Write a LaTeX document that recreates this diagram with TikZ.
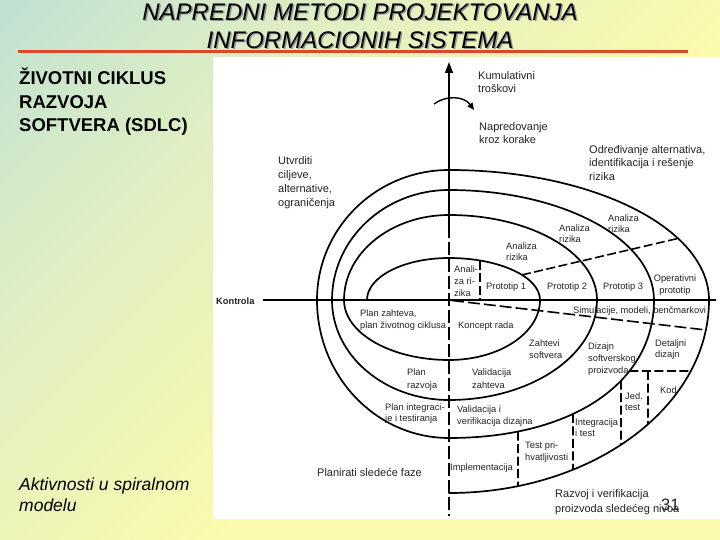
\documentclass[tikz,border=0pt]{standalone}
\usepackage{fontspec}
\setmainfont{Liberation Sans}
\usetikzlibrary{arrows.meta,intersections}
\definecolor{bgteal}{RGB}{166,214,222}
\definecolor{bgmid}{RGB}{222,238,196}
\definecolor{bgyel}{RGB}{252,250,172}
\definecolor{redline}{RGB}{218,74,40}
\definecolor{txtc}{RGB}{35,35,35}
\definecolor{shadowc}{RGB}{150,150,150}
\pgfdeclareverticalshading{bgsh}{100bp}{color(0bp)=(bgyel); color(42bp)=(bgyel); color(68bp)=(bgmid); color(100bp)=(bgteal)}
\begin{document}
\begin{tikzpicture}[x=1pt,y=-1pt,
  spiral/.style={line width=1.7pt, line cap=round, line join=round, black},
  dsh/.style={line width=1.6pt, dash pattern=on 9pt off 3.5pt, black},
  axisline/.style={line width=1.4pt, black},
  lbl/.style={font=\fontsize{9.3}{12}\selectfont, text=txtc, inner sep=0pt, align=left, anchor=north west},
  lbig/.style={font=\fontsize{11}{13.5}\selectfont, text=txtc, inner sep=0pt, align=left, anchor=north west},
  ttl/.style={font=\fontsize{24}{28}\selectfont\itshape, inner sep=0pt, anchor=base},
  lefttitle/.style={font=\fontsize{18.5}{23.5}\selectfont\bfseries, inner sep=0pt, anchor=base west},
  leftnote/.style={font=\fontsize{17.5}{21}\selectfont\itshape, inner sep=0pt, anchor=base west}
]
\useasboundingbox (0,0) rectangle (720,540);
% background
\shade[shading=bgsh, shading angle=45] (0,0) rectangle (720,540);
\fill[white] (213,57) rectangle (720,519);
% title
\node[ttl, text=shadowc] (t1s) at (361.5,21.8) {NAPREDNI METODI PROJEKTOVANJA};
\node[ttl, text=shadowc] (t2s) at (361.5,49.8) {INFORMACIONIH SISTEMA};
\node[ttl] (t1) at (360,20.5) {NAPREDNI METODI PROJEKTOVANJA};
\node[ttl] (t2) at (360,48.5) {INFORMACIONIH SISTEMA};
\coordinate (rl1) at (18,52);
\coordinate (rl2) at (688,52);
\draw[line width=3pt, redline] (rl1) -- (rl2);
% left texts
\node[lefttitle] (l1) at (19,85) {ŽIVOTNI CIKLUS};
\node[lefttitle] (l2) at (19,108.5) {RAZVOJA};
\node[lefttitle] (l3) at (19,132) {SOFTVERA (SDLC)};
\node[leftnote] (n1) at (19,490) {Aktivnosti u spiralnom};
\node[leftnote] (n2) at (19,511) {modelu};
% axes
\coordinate (vtop) at (449,62);
\coordinate (vmid) at (449,225);
\coordinate (vbot) at (449,516);
\coordinate (hl) at (263,300);
\coordinate (hr) at (716,300);
\draw[axisline, -{Triangle[length=11pt,width=8pt]}] (vmid) -- (vtop);
\draw[axisline, dash pattern=on 13pt off 4pt] (vmid) -- (vbot);
\draw[axisline] (hl) -- (hr);
% curved arrow
\coordinate (ca1) at (434,104);
\coordinate (ca2) at (474,110);
\draw[line width=1.4pt, -{Triangle[length=7pt,width=6pt]}] (ca1) .. controls (446,95) and (464,96) .. (ca2);
% spiral
\draw[spiral] (367,300)
  arc[start angle=180,end angle=90,x radius=82pt,y radius=42pt]
  arc[start angle=90,end angle=0,x radius=91pt,y radius=42pt]
  arc[start angle=0,end angle=-90,x radius=91pt,y radius=60pt]
  arc[start angle=-90,end angle=-180,x radius=105pt,y radius=60pt]
  arc[start angle=180,end angle=90,x radius=105pt,y radius=85pt]
  arc[start angle=90,end angle=0,x radius=148pt,y radius=85pt]
  arc[start angle=0,end angle=-90,x radius=148pt,y radius=100pt]
  arc[start angle=-90,end angle=-180,x radius=117pt,y radius=100pt]
  arc[start angle=180,end angle=90,x radius=117pt,y radius=110pt]
  arc[start angle=90,end angle=0,x radius=205pt,y radius=110pt];
\draw[spiral, name path=c3lr] (654,300) .. controls (654,383) and (572,438) .. (449,438);
\draw[spiral] (449,438)
  arc[start angle=-90,end angle=-180,x radius=132pt,y radius=138pt]
  arc[start angle=180,end angle=90,x radius=132pt,y radius=130pt]
  arc[start angle=90,end angle=0,x radius=260pt,y radius=130pt];
\draw[spiral, name path=c4lr] (709,300) arc[start angle=0,end angle=-90,x radius=260pt,y radius=193pt];
% dashed separators
\coordinate (an1) at (480,260.5);
\coordinate (an2) at (480,300);
\draw[dsh] (an1) -- (an2);
\coordinate (dg1) at (522,274.9);
\coordinate (dg2) at (678,238.4);
\draw[dsh] (dg1) -- (dg2);
\coordinate (sm1) at (452,300.5);
\coordinate (sm2) at (706,330);
\draw[dsh, dash pattern=on 12pt off 4pt] (sm1) -- (sm2);
\path[name path=v1] (518,290) -- (518,530);
\path[name path=v2] (573,290) -- (573,530);
\path[name path=v3] (621,290) -- (621,530);
\path[name path=v4] (648,290) -- (648,530);
\path[name path=h1] (600,371) -- (720,371);
\path[name intersections={of=c3lr and v1,by=v1a}];
\path[name intersections={of=c4lr and v1,by=v1b}];
\path[name intersections={of=c3lr and v2,by=v2a}];
\path[name intersections={of=c4lr and v2,by=v2b}];
\path[name intersections={of=c3lr and v3,by=v3a}];
\path[name intersections={of=c4lr and v3,by=v3b}];
\path[name intersections={of=c3lr and h1,by=h1a}];
\path[name intersections={of=c4lr and h1,by=h1b}];
\path[name intersections={of=c4lr and v4,by=v4b}];
\coordinate (v4a) at (648,371);
\draw[dsh] (v1a) -- (v1b);
\draw[dsh] (v2a) -- (v2b);
\draw[dsh] (v3a) -- (v3b);
\draw[dsh] (v4a) -- (v4b);
\draw[dsh] (h1a) -- (h1b);
% big labels
\node[lbig] (kum) at (478,71) {Kumulativni\\troškovi};
\node[lbig] (nap) at (479,122) {Napredovanje\\kroz korake};
\node[lbig] (odr) at (589,145) {Određivanje alternativa,\\identifikacija i rešenje\\rizika};
\node[lbig, font=\fontsize{11}{14}\selectfont] (utv) at (278,156) {Utvrditi\\ciljeve,\\alternative,\\ograničenja};
\node[lbig] (pls) at (317,468) {Planirati sledeće faze};
\node[lbig, font=\fontsize{11}{15}\selectfont] (raz) at (555,489) {Razvoj i verifikacija\\proizvoda sledećeg nivoa};
% small labels
\node[lbl, font=\fontsize{9.3}{9.3}\selectfont\bfseries] (kon) at (216,297.6) {Kontrola};
\node[lbl] (ana) at (454,265.6) {Anali-\\za ri-\\zika};
\node[lbl] (p1) at (486,282.6) {Prototip 1};
\node[lbl] (p2) at (547,282.6) {Prototip 2};
\node[lbl] (p3) at (603,282.6) {Prototip 3};
\node[lbl, align=center, anchor=north, font=\fontsize{9.3}{11.5}\selectfont] (op) at (675,274.6) {Operativni\\prototip};
\node[lbl, font=\fontsize{9.3}{11}\selectfont] (ar1) at (506,242.3) {Analiza\\rizika};
\node[lbl, font=\fontsize{9.3}{11}\selectfont] (ar2) at (559,224.3) {Analiza\\rizika};
\node[lbl, font=\fontsize{9.3}{11}\selectfont] (ar3) at (608,214.3) {Analiza\\rizika};
\node[lbl] (sim) at (573,306.6) {Simulacije, modeli, benčmarkovi};
\node[lbl, font=\fontsize{9.3}{11.7}\selectfont] (plz) at (360,310) {Plan zahteva,\\plan životnog ciklusa};
\node[lbl] (kr) at (458,321.6) {Koncept rada};
\node[lbl] (zs) at (529,339.6) {Zahtevi\\softvera};
\node[lbl] (dsp) at (588,342.6) {Dizajn\\softverskog\\proizvoda};
\node[lbl, font=\fontsize{9.3}{11.6}\selectfont] (dd) at (655,339.3) {Detaljni\\dizajn};
\node[lbl, font=\fontsize{9.3}{13.3}\selectfont] (vz) at (472,368.3) {Validacija\\zahteva};
\node[lbl, font=\fontsize{9.3}{13.3}\selectfont] (pr) at (407,368.3) {Plan\\razvoja};
\node[lbl, font=\fontsize{9.3}{10.5}\selectfont] (pit) at (385,404) {Plan integraci-\\je i testiranja};
\node[lbl, font=\fontsize{9.3}{11.4}\selectfont] (vvd) at (457,406) {Validacija i\\verifikacija dizajna};
\node[lbl, font=\fontsize{9.3}{11.3}\selectfont] (jt) at (625,392.6) {Jed.\\test};
\node[lbl] (kod) at (660,386.6) {Kod};
\node[lbl, font=\fontsize{9.3}{11.6}\selectfont] (it) at (575,418.3) {Integracija\\i test};
\node[lbl, font=\fontsize{9.3}{11.7}\selectfont] (tp) at (525,441.6) {Test pri-\\hvatljivosti};
\node[lbl] (imp) at (450,463.9) {Implementacija};
% page number
\node[font=\fontsize{16.5}{16.5}\selectfont, text=txtc, inner sep=0pt, anchor=base west] (pg) at (661,510) {31};
\end{tikzpicture}
\end{document}
